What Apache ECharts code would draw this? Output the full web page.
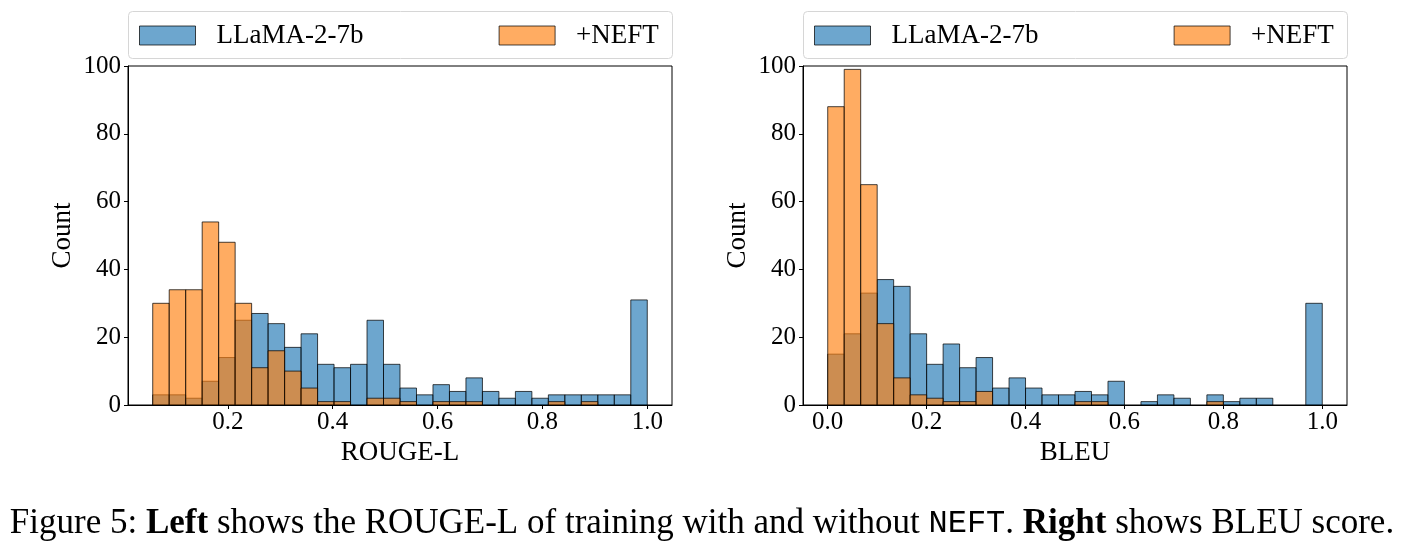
<!DOCTYPE html>
<html><head><meta charset="utf-8">
<script src="https://cdn.jsdelivr.net/npm/echarts@6/dist/echarts.min.js"></script>
<style>html,body{margin:0;padding:0;background:#fff}#c{width:1404px;height:556px}</style>
</head><body><div id="c"></div>
<script>
// ---- data ----
const seriesNames = ['LLaMA-2-7b', '+NEFT'];
const rougeRange = [0.0567, 1.0];   // histogram data range (30 bins)
const rougeBase = [3,3,2,7,14,25,27,24,17,21,12,11,12,25,12,5,3,6,4,8,4,2,4,2,3,3,3,3,3,31];
const rougeNeft = [30,34,34,54,48,30,11,16,10,5,1,1,0,2,2,1,0,1,1,1,0,0,0,0,1,0,1,0,0,0];
const bleuRange = [0.0, 1.0];
const bleuBase = [15,21,33,37,35,21,12,18,11,14,5,8,5,3,3,4,3,7,0,1,3,2,0,3,1,2,2,0,0,30];
const bleuNeft = [88,99,65,24,8,3,2,1,1,4,0,0,0,0,0,1,1,0,0,0,0,0,0,1,0,0,0,0,0,0];
const rougeTicks = [0.2, 0.4, 0.6, 0.8, 1.0];
const bleuTicks = [0.0, 0.2, 0.4, 0.6, 0.8, 1.0];
const yTicks = [0, 20, 40, 60, 80, 100];
const xNames = ['ROUGE-L', 'BLEU'];
const yName = 'Count';

// ---- helpers ----
const SERIF = "'Liberation Serif', 'Times New Roman', serif";
const BLUE = 'rgba(31,119,180,0.65)';
const ORANGE = 'rgba(255,127,14,0.65)';
const EDGE = 'rgba(0,0,0,0.72)';

function bins(range, counts) {
  const n = counts.length, w = (range[1] - range[0]) / n;
  const out = [];
  counts.forEach((c, i) => { if (c > 0) out.push([range[0] + i * w, range[0] + (i + 1) * w, c]); });
  return out;
}
function renderItem(params, api) {
  const p0 = api.coord([api.value(0), 0]);
  const p1 = api.coord([api.value(1), api.value(2)]);
  return {
    type: 'rect',
    shape: { x: p0[0], y: p1[1], width: p1[0] - p0[0], height: p0[1] - p1[1] },
    style: api.style({ lineWidth: 1 })
  };
}
function xlim(range) { const m = (range[1] - range[0]) * 0.05; return [range[0] - m, range[1] + m]; }

const grids = [
  { left: 128, top: 66, width: 544, height: 339 },
  { left: 803, top: 66, width: 544, height: 339 }
];
const ranges = [rougeRange, bleuRange];
const ticks = [rougeTicks, bleuTicks];

const option = {
  animation: false,
  backgroundColor: '#fff',
  grid: grids.map(g => Object.assign({ show: true, borderColor: '#000', borderWidth: 1, backgroundColor: 'transparent' }, g)),
  xAxis: [0, 1].map(i => {
    const lim = xlim(ranges[i]);
    return {
      type: 'value', gridIndex: i, min: lim[0], max: lim[1],
      name: xNames[i], nameLocation: 'middle', nameGap: 33,
      nameTextStyle: { fontFamily: SERIF, fontSize: 27, color: '#000' },
      axisLine: { show: true, onZero: false, lineStyle: { color: '#000', width: 1 } },
      axisTick: { show: true, length: 4, lineStyle: { color: '#000' }, customValues: ticks[i] },
      axisLabel: { customValues: ticks[i], formatter: v => Number(v).toFixed(1), fontFamily: SERIF, fontSize: 25, color: '#000', margin: 5 },
      splitLine: { show: false }
    };
  }),
  yAxis: [0, 1].map(i => ({
    type: 'value', gridIndex: i, min: yTicks[0], max: yTicks[yTicks.length - 1], interval: yTicks[1] - yTicks[0],
    name: yName, nameLocation: 'middle', nameGap: 52,
    nameTextStyle: { fontFamily: SERIF, fontSize: 27, color: '#000' },
    axisLine: { show: true, onZero: false, lineStyle: { color: '#000', width: 1 } },
    axisTick: { show: true, length: 4, lineStyle: { color: '#000' } },
    axisLabel: { fontFamily: SERIF, fontSize: 25, color: '#000', margin: 7 },
    splitLine: { show: false }
  })),
  legend: [
    [139, seriesNames[0]], [498.6, seriesNames[1]],
    [814, seriesNames[0]], [1173.6, seriesNames[1]]
  ].map(([x, name]) => ({
    data: [name], left: x, top: 22, padding: 0, icon: 'rect',
    itemWidth: 56, itemHeight: 19, selectedMode: false,
    itemStyle: { borderColor: EDGE, borderWidth: 1 },
    textStyle: { fontFamily: SERIF, fontSize: 27, color: '#000', padding: [0, 0, 0, 16] }
  })),
  series: [
    [0, seriesNames[0], bins(rougeRange, rougeBase), BLUE],
    [0, seriesNames[1], bins(rougeRange, rougeNeft), ORANGE],
    [1, seriesNames[0], bins(bleuRange, bleuBase), BLUE],
    [1, seriesNames[1], bins(bleuRange, bleuNeft), ORANGE]
  ].map(([g, name, data, color]) => ({
    type: 'custom', name, xAxisIndex: g, yAxisIndex: g, data,
    renderItem, encode: { x: [0, 1], y: 2 },
    itemStyle: { color, borderColor: EDGE, borderWidth: 1 }
  })),
  graphic: [
    { type: 'rect', left: 128, top: 11, z: -1, shape: { width: 544, height: 47, r: 4 }, style: { fill: '#fff', stroke: '#d6d6d6', lineWidth: 1 } },
    { type: 'rect', left: 803, top: 11, z: -1, shape: { width: 544, height: 47, r: 4 }, style: { fill: '#fff', stroke: '#d6d6d6', lineWidth: 1 } },
    {
      type: 'text', left: 'center', top: 506,
      style: {
        text: '{n|Figure 5: }{b|Left}{n| shows the ROUGE-L of training with and without }{m|NEFT}{n|. }{b|Right}{n| shows BLEU score.}',
        rich: {
          n: { fontFamily: SERIF, fontSize: 35, fill: '#000' },
          b: { fontFamily: SERIF, fontSize: 35, fontWeight: 'bold', fill: '#000' },
          m: { fontFamily: "'Liberation Mono', monospace", fontSize: 32, fill: '#000' }
        }
      }
    }
  ]
};
const chart = echarts.init(document.getElementById('c'), null, { renderer: 'canvas' });
chart.setOption(option);
</script>
</body></html>
